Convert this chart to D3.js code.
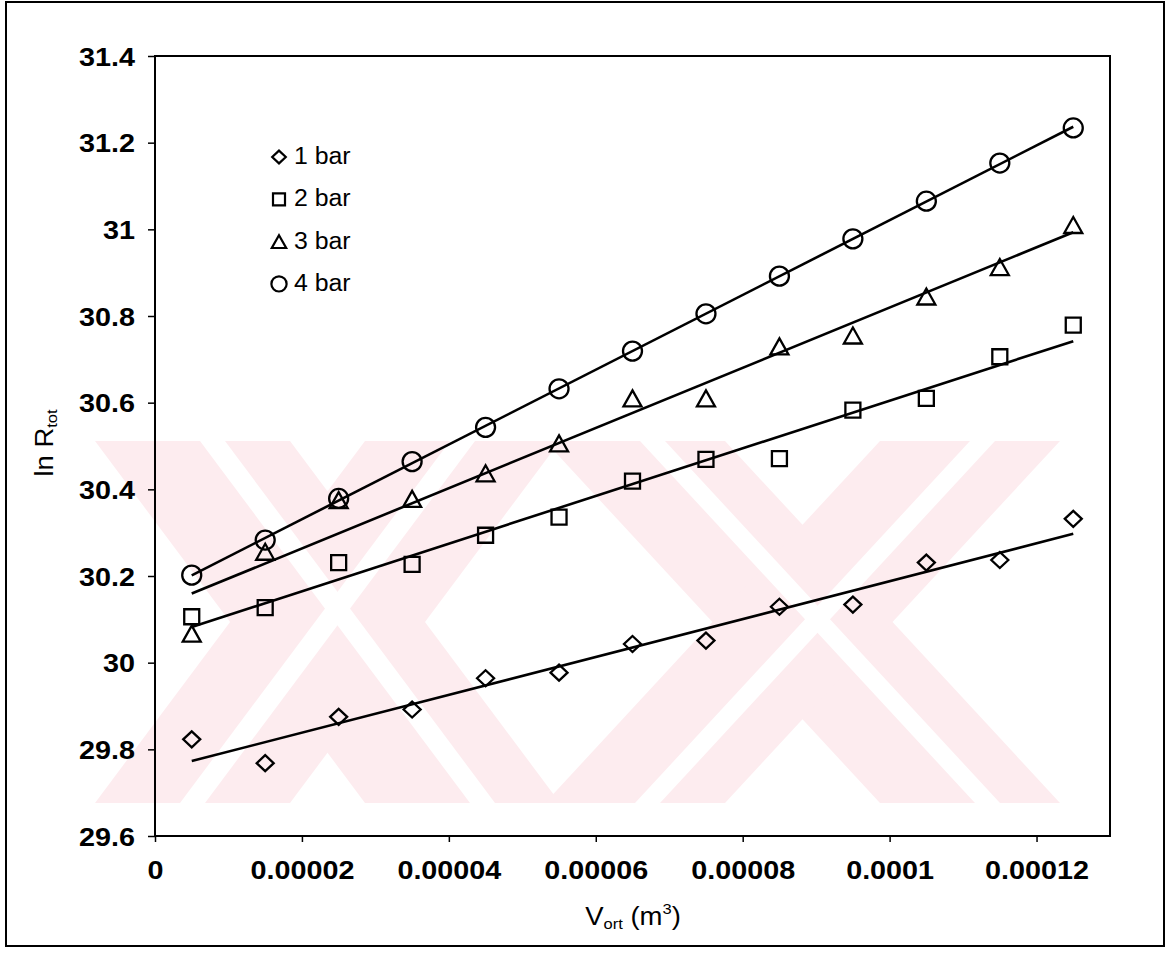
<!DOCTYPE html>
<html>
<head>
<meta charset="utf-8">
<script src="https://cdn.jsdelivr.net/npm/d3@7"></script>
<style>
  html, body { margin: 0; padding: 0; background: #fff; }
  svg { display: block; }
  text { font-family: Arial, "Liberation Sans", sans-serif; fill: #000; }
</style>
</head>
<body>
<svg id="chart" width="1168" height="957"></svg>
<script>
// ---- data ----
const volumes = [0.000005, 0.000015, 0.000025, 0.000035, 0.000045, 0.000055, 0.000065,
                 0.000075, 0.000085, 0.000095, 0.000105, 0.000115, 0.000125];
const bar1 = [29.823, 29.768, 29.875, 29.892, 29.964, 29.977, 30.043, 30.051, 30.129, 30.134, 30.231, 30.237, 30.332];
const bar2 = [30.106, 30.127, 30.231, 30.227, 30.294, 30.336, 30.419, 30.469, 30.471, 30.583, 30.610, 30.706, 30.779];
const bar3 = [30.067, 30.256, 30.375, 30.378, 30.437, 30.506, 30.610, 30.610, 30.730, 30.755, 30.845, 30.913, 31.010];
const bar4 = [30.202, 30.283, 30.379, 30.464, 30.543, 30.632, 30.719, 30.805, 30.892, 30.978, 31.065, 31.153, 31.234];
const seriesNames = ["1 bar", "2 bar", "3 bar", "4 bar"];
const seriesShapes = ["diamond", "square", "triangle", "circle"];
const xTickValues = [0, 0.00002, 0.00004, 0.00006, 0.00008, 0.0001, 0.00012];
const xTickLabels = ["0", "0.00002", "0.00004", "0.00006", "0.00008", "0.0001", "0.00012"];
const yTickValues = [29.6, 29.8, 30, 30.2, 30.4, 30.6, 30.8, 31, 31.2, 31.4];
const yTickLabels = ["29.6", "29.8", "30", "30.2", "30.4", "30.6", "30.8", "31", "31.2", "31.4"];

const seriesValues = [bar1, bar2, bar3, bar4];

// ---- layout ----
const svg = d3.select("#chart");
const plot = { left: 155, top: 56, right: 1110, bottom: 836 };
const x = d3.scaleLinear().domain([0, 0.00013]).range([plot.left, plot.right]);
const y = d3.scaleLinear().domain([29.6, 31.4]).range([plot.bottom, plot.top]);
const STRETCH = 1.15;

function stretchText(sel, k) {
  sel.each(function () {
    const len = this.getComputedTextLength();
    d3.select(this).attr("textLength", len * k).attr("lengthAdjust", "spacingAndGlyphs");
  });
}

// outer frame
svg.append("rect").attr("x", 6).attr("y", 2).attr("width", 1158).attr("height", 944)
  .attr("fill", "none").attr("stroke", "#000").attr("stroke-width", 2);

// ---- watermark (background decoration) ----
const wm = svg.append("g").attr("class", "watermark");
const wTop = 441, wBot = 803;
function band(t0, t1, b0, b1, color) {
  wm.append("path")
    .attr("d", `M${t0},${wTop}L${t1},${wTop}L${b1},${wBot}L${b0},${wBot}Z`)
    .attr("fill", color);
}
const pink = "#fdecef";
// left X
band(95, 290, 365, 560, pink);
band(365, 560, 95, 290, pink);
// right X
band(545, 725, 880, 1060, pink);
band(880, 1060, 545, 725, pink);
// white stripes inside bands
band(200, 225, 470, 495, "#fff");
band(450, 475, 180, 205, "#fff");
band(640, 665, 975, 1000, "#fff");
band(970, 995, 635, 660, "#fff");

// ---- axes ----
const yAxis = d3.axisLeft(y).tickValues(yTickValues)
  .tickFormat((d, i) => yTickLabels[i]).tickSizeInner(7).tickSizeOuter(0).tickPadding(13);
const gy = svg.append("g").attr("transform", `translate(${plot.left},0)`).call(yAxis);
gy.select(".domain").remove();
gy.selectAll("line").attr("stroke", "#000").attr("stroke-width", 1.5);
gy.selectAll("text").attr("font-size", 25).attr("font-weight", "bold")
  .attr("font-family", "Arial, 'Liberation Sans', sans-serif").attr("dy", "0.36em")
  .call(stretchText, STRETCH);

const xAxis = d3.axisBottom(x).tickValues(xTickValues)
  .tickFormat((d, i) => xTickLabels[i]).tickSizeInner(6).tickSizeOuter(0).tickPadding(0);
const gx = svg.append("g").attr("transform", `translate(0,${plot.bottom})`).call(xAxis);
gx.select(".domain").remove();
gx.selectAll("line").attr("stroke", "#000").attr("stroke-width", 1.5);
gx.selectAll("text").attr("font-size", 25).attr("font-weight", "bold")
  .attr("font-family", "Arial, 'Liberation Sans', sans-serif")
  .attr("dy", null).attr("y", 43)
  .call(stretchText, STRETCH);

// plot border
svg.append("rect").attr("x", plot.left).attr("y", plot.top)
  .attr("width", plot.right - plot.left).attr("height", plot.bottom - plot.top)
  .attr("fill", "none").attr("stroke", "#000").attr("stroke-width", 2);

// ---- marker shapes ----
function shapePath(shape, s) {
  switch (shape) {
    case "diamond": { const w = 8.5 * s, h = 8 * s; return `M0,${-h}L${w},0L0,${h}L${-w},0Z`; }
    case "square": { const a = 7.5 * s; return `M${-a},${-a}H${a}V${a}H${-a}Z`; }
    case "triangle": { const w = 9 * s, h = 8 * s; return `M0,${-h}L${w},${h}L${-w},${h}Z`; }
    case "circle": { const r = 9.5 * s; return `M${r},0A${r},${r} 0 1,1 ${-r},0A${r},${r} 0 1,1 ${r},0Z`; }
  }
}

// ---- trend lines (least-squares fit, as in the original) ----
function fit(xs, ys) {
  const mx = d3.mean(xs), my = d3.mean(ys);
  let num = 0, den = 0;
  xs.forEach((v, i) => { num += (v - mx) * (ys[i] - my); den += (v - mx) * (v - mx); });
  const b = num / den;
  return { a: my - b * mx, b };
}
const line = d3.line().x(d => x(d[0])).y(d => y(d[1]));
const x0 = d3.min(volumes), x1 = d3.max(volumes);
seriesValues.forEach(vals => {
  const f = fit(volumes, vals);
  svg.append("path")
    .attr("d", line([[x0, f.a + f.b * x0], [x1, f.a + f.b * x1]]))
    .attr("fill", "none").attr("stroke", "#000").attr("stroke-width", 2.6);
});

// ---- markers ----
seriesValues.forEach((vals, si) => {
  svg.append("g").selectAll("path")
    .data(vals.map((v, i) => [volumes[i], v]))
    .join("path")
    .attr("transform", d => `translate(${x(d[0])},${y(d[1])})`)
    .attr("d", shapePath(seriesShapes[si], 1))
    .attr("fill", "none").attr("stroke", "#000").attr("stroke-width", 2.3);
});

// ---- legend ----
const legend = svg.append("g").attr("transform", "translate(279,157)");
seriesNames.forEach((name, i) => {
  const g = legend.append("g").attr("transform", `translate(0,${i * 42.3})`);
  g.append("path").attr("d", shapePath(seriesShapes[i], 0.8))
    .attr("fill", "none").attr("stroke", "#000").attr("stroke-width", 2.2);
  g.append("text").attr("x", 15).attr("y", 7).attr("font-size", 23).text(name)
    .call(stretchText, 1.08);
});

// ---- axis titles ----
const xt = svg.append("g").attr("transform", "translate(633,925) scale(1.1,1)");
const xtt = xt.append("text").attr("text-anchor", "middle").attr("font-size", 25);
xtt.append("tspan").text("V");
xtt.append("tspan").attr("font-size", 15).attr("dy", 4).text("ort");
xtt.append("tspan").attr("dy", -4).text(" (m");
xtt.append("tspan").attr("font-size", 15).attr("dy", -11).text("3");
xtt.append("tspan").attr("dy", 11).text(")");

const yt = svg.append("g").attr("transform", "translate(53,443) rotate(-90) scale(1.1,1)");
const ytt = yt.append("text").attr("text-anchor", "middle").attr("font-size", 25);
ytt.append("tspan").text("ln R");
ytt.append("tspan").attr("font-size", 15).attr("dy", 4).text("tot");
</script>
</body>
</html>
